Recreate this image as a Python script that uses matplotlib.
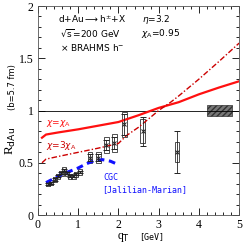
import matplotlib
matplotlib.use("Agg")
import matplotlib.pyplot as plt
from matplotlib.patches import Rectangle
from matplotlib.ticker import MultipleLocator

# BRAHMS h- data (eta = 3.2)
q_data = [0.25, 0.32, 0.42, 0.50, 0.58, 0.65, 0.72, 0.80, 0.88, 0.95, 1.05,
          1.30, 1.50, 1.70, 1.90, 2.15, 2.60, 3.45]
r_data = [0.30, 0.31, 0.34, 0.37, 0.40, 0.43, 0.40, 0.37, 0.37, 0.39, 0.41,
          0.55, 0.55, 0.67, 0.69, 0.87, 0.80, 0.60]
stat_err = [0.01, 0.01, 0.01, 0.01, 0.01, 0.01, 0.01, 0.01, 0.01, 0.01, 0.01,
            0.03, 0.03, 0.05, 0.06, 0.10, 0.14, 0.20]
sys_err = [0.025, 0.025, 0.025, 0.025, 0.025, 0.025, 0.025, 0.025, 0.025, 0.025, 0.03,
           0.05, 0.05, 0.08, 0.09, 0.12, 0.115, 0.095]

# chi = chi_A
q_solid = [0.1, 0.2, 0.5, 1.0, 1.5, 2.0, 2.5, 3.0, 3.5, 4.0, 4.5, 5.0]
r_solid = [0.74, 0.77, 0.79, 0.82, 0.855, 0.89, 0.955, 1.025, 1.08, 1.155, 1.22, 1.28]

# chi = 3 chi_A
q_dd = [0.1, 0.2, 0.5, 1.0, 1.5, 2.0, 2.2, 2.5, 3.0, 3.3, 3.5, 4.0, 4.5, 5.0]
r_dd = [0.50, 0.535, 0.56, 0.60, 0.64, 0.685, 0.76, 0.84, 1.00, 1.08, 1.14, 1.30, 1.47, 1.645]

# CGC (Jalilian-Marian)
q_cgc = [0.2, 0.4, 0.6, 0.8, 1.0, 1.2, 1.4, 1.6, 1.8, 1.95]
r_cgc = [0.31, 0.35, 0.39, 0.42, 0.45, 0.49, 0.52, 0.53, 0.515, 0.49]

fig = plt.figure(figsize=(2.45, 2.45), dpi=100)
ax = fig.add_axes([0.155, 0.1224, 0.821, 0.853])

ax.axhline(1.0, color="black", lw=0.6)

# normalization uncertainty box
ax.add_patch(Rectangle((4.21, 0.95), 0.61, 0.10, facecolor="#777777",
                       edgecolor="#333333", hatch="//////", lw=0.5))

ax.plot(q_solid, r_solid, color="#ff1010", lw=1.6)
ax.plot(q_dd, r_dd, color="#cc0000", lw=1.0, ls=(0, (4, 1.5, 1, 1.5)))
ax.plot(q_cgc, r_cgc, color="#1010ff", lw=2.2, ls=(0, (2.2, 1.5)))

for q, r, s in zip(q_data, r_data, sys_err):
    ax.add_patch(Rectangle((q - 0.055, r - s), 0.11, 2 * s, fill=False,
                           edgecolor="#333333", lw=0.6))
ax.errorbar(q_data, r_data, yerr=stat_err, fmt="x", color="#222222", ms=3.5,
            mew=0.7, elinewidth=0.6, capsize=2, capthick=0.6)

tf = dict(fontsize=6.5, family="DejaVu Sans", color="black")
ax.text(0.5, 1.87, "d+Au$\\longrightarrow$h$^{\\pm}$+X", va="center", **tf)
ax.text(2.58, 1.87, "$\\eta$=3.2", va="center", **tf)
ax.text(0.55, 1.74, "$\\sqrt{\\rm s}$=200 GeV", va="center", **tf)
ax.text(2.55, 1.74, "$\\chi_{\\rm A}$=0.95", va="center", **tf)
ax.text(0.55, 1.60, "$\\times$ BRAHMS h$^{-}$", va="center", **tf)

ax.text(0.2, 0.88, "$\\chi$=$\\chi_{\\rm A}$", color="#ff1010", fontsize=6.5, va="center")
ax.text(0.2, 0.67, "$\\chi$=3$\\chi_{\\rm A}$", color="#cc0000", fontsize=6.5, va="center")
ax.text(1.63, 0.36, "CGC", color="#1010ff", fontsize=6, va="center", family="DejaVu Sans Mono")
ax.text(1.60, 0.24, "[Jalilian-Marian]", color="#1010ff", fontsize=6, va="center",
        family="DejaVu Sans Mono")

ax.set_xlim(0, 5)
ax.set_ylim(0, 2)
ax.xaxis.set_major_locator(MultipleLocator(1))
ax.xaxis.set_minor_locator(MultipleLocator(0.2))
ax.yaxis.set_major_locator(MultipleLocator(0.5))
ax.yaxis.set_minor_locator(MultipleLocator(0.1))
ax.set_yticks([0, 0.5, 1, 1.5, 2])
ax.set_yticklabels(["0", "0.5", "1", "1.5", "2"])
ax.tick_params(which="both", direction="in", top=True, right=True, width=0.6,
               labelsize=8.5, pad=3)
ax.tick_params(which="major", length=5)
ax.tick_params(which="minor", length=2.5)
for lab in ax.get_xticklabels() + ax.get_yticklabels():
    lab.set_family("Liberation Serif")
for sp in ax.spines.values():
    sp.set_linewidth(0.6)
    sp.set_color("#555555")

fig.text(0.506, 0.03, "q$_{\\rm T}$", fontsize=8.5, family="Liberation Serif", ha="center", va="center")
fig.text(0.618, 0.036, "[GeV]", fontsize=6, family="DejaVu Sans Mono", ha="center", va="center")
fig.text(0.045, 0.425, "R$_{\\rm dAu}$", fontsize=9.5, family="Liberation Serif",
         rotation=90, ha="center", va="center")
fig.text(0.05, 0.645, "(b=5.7 fm)", fontsize=6, family="DejaVu Sans",
         rotation=90, ha="center", va="center")

fig.savefig("out.png", dpi=100)
